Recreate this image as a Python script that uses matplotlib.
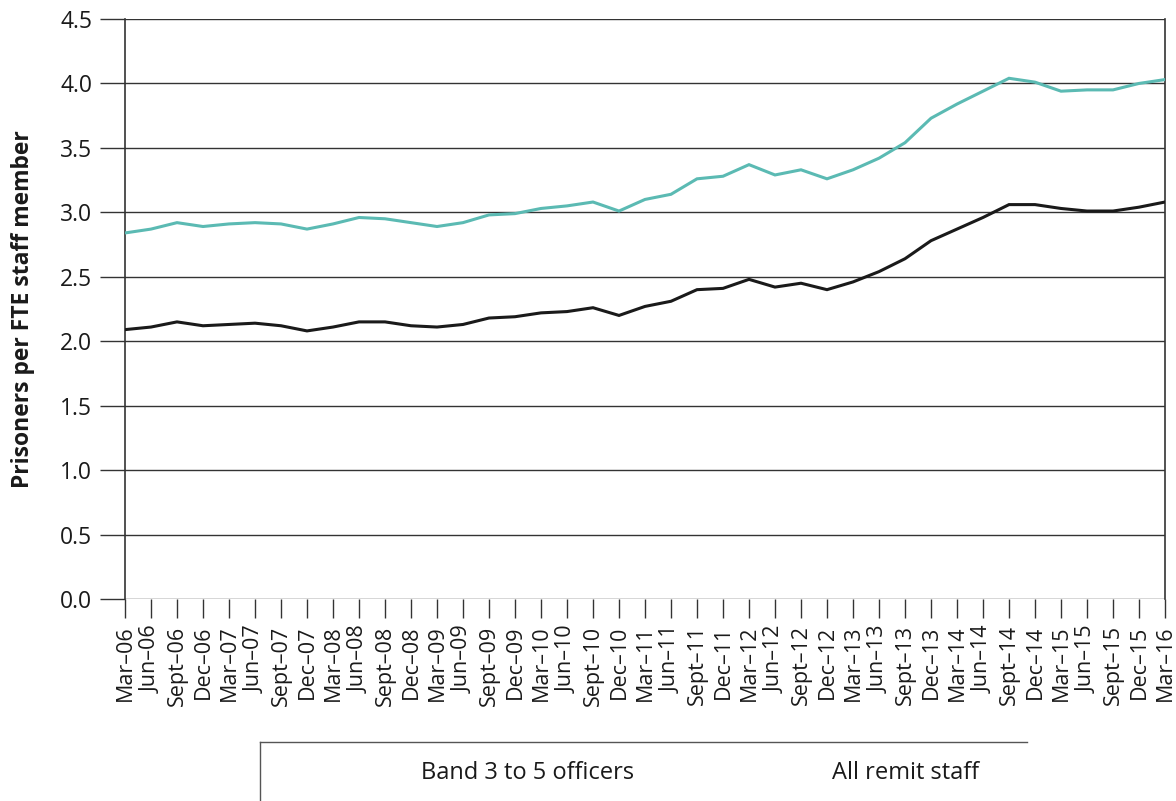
import matplotlib
matplotlib.use("Agg")
import matplotlib.pyplot as plt
from matplotlib.lines import Line2D

plt.rcParams['font.family'] = ['Open Sans', 'DejaVu Sans']

labels = ["Mar–06", "Jun–06", "Sept–06", "Dec–06",
          "Mar–07", "Jun–07", "Sept–07", "Dec–07",
          "Mar–08", "Jun–08", "Sept–08", "Dec–08",
          "Mar–09", "Jun–09", "Sept–09", "Dec–09",
          "Mar–10", "Jun–10", "Sept–10", "Dec–10",
          "Mar–11", "Jun–11", "Sept–11", "Dec–11",
          "Mar–12", "Jun–12", "Sept–12", "Dec–12",
          "Mar–13", "Jun–13", "Sept–13", "Dec–13",
          "Mar–14", "Jun–14", "Sept–14", "Dec–14",
          "Mar–15", "Jun–15", "Sept–15", "Dec–15",
          "Mar–16"]

band3to5 = [2.84, 2.87, 2.92, 2.89, 2.91, 2.92, 2.91, 2.87, 2.91, 2.96,
            2.95, 2.92, 2.89, 2.92, 2.98, 2.99, 3.03, 3.05, 3.08, 3.01,
            3.10, 3.14, 3.26, 3.28, 3.37, 3.29, 3.33, 3.26, 3.33, 3.42,
            3.54, 3.73, 3.84, 3.94, 4.04, 4.01, 3.94, 3.95, 3.95, 4.00,
            4.03]

all_remit = [2.09, 2.11, 2.15, 2.12, 2.13, 2.14, 2.12, 2.08, 2.11, 2.15,
             2.15, 2.12, 2.11, 2.13, 2.18, 2.19, 2.22, 2.23, 2.26, 2.20,
             2.27, 2.31, 2.40, 2.41, 2.48, 2.42, 2.45, 2.40, 2.46, 2.54,
             2.64, 2.78, 2.87, 2.96, 3.06, 3.06, 3.03, 3.01, 3.01, 3.04,
             3.08]

yticks = [0.0, 0.5, 1.0, 1.5, 2.0, 2.5, 3.0, 3.5, 4.0, 4.5]

fig = plt.figure(figsize=(11.76, 8.01), dpi=100)
ax = fig.add_axes([125/1176, 1 - 599/801, (1165-125)/1176, (599-19)/801])

x = list(range(len(labels)))
teal = "#5bbab3"
ax.plot(x, band3to5, color=teal, lw=2.2, solid_joinstyle='miter', zorder=3)
ax.plot(x, all_remit, color="#1a1a1a", lw=2.2, solid_joinstyle='miter', zorder=3)

ax.set_xlim(0, len(labels) - 1)
ax.set_ylim(0, 4.5)
ax.set_yticks(yticks)
ax.set_yticklabels([f"{v:.1f}" for v in yticks], fontsize=16.5, color="#1a1a1a")
ax.set_xticks(x)
ax.set_xticklabels(labels, rotation=90, fontsize=15.5, color="#1a1a1a")

ax.yaxis.grid(True, color="#333333", lw=1.0)
ax.set_axisbelow(True)
ax.spines['top'].set_visible(False)
ax.spines['bottom'].set_visible(False)
for s in ['left', 'right']:
    ax.spines[s].set_color("#333333")
    ax.spines[s].set_linewidth(1.2)

ax.tick_params(axis='y', length=18, width=1.0, color="#333333", pad=5.5)
ax.tick_params(axis='x', length=14, width=1.0, color="#333333", pad=5)

ax.set_ylabel("Prisoners per FTE staff member", fontsize=16.5, fontweight='bold',
              color="#1a1a1a", labelpad=18)

# legend box (text only, partial frame)
fig.add_artist(Line2D([260/1176, 1027/1176], [1 - 742/801, 1 - 742/801],
                      color="#555555", lw=1.0, transform=fig.transFigure))
fig.add_artist(Line2D([260/1176, 260/1176], [1 - 742/801, 0],
                      color="#555555", lw=1.0, transform=fig.transFigure))
fig.text(528/1176, 1 - 773/801, "Band 3 to 5 officers", fontsize=17,
         ha='center', va='center', color="#1a1a1a")
fig.text(906/1176, 1 - 773/801, "All remit staff", fontsize=17,
         ha='center', va='center', color="#1a1a1a")

fig.savefig("out.png", dpi=100)
